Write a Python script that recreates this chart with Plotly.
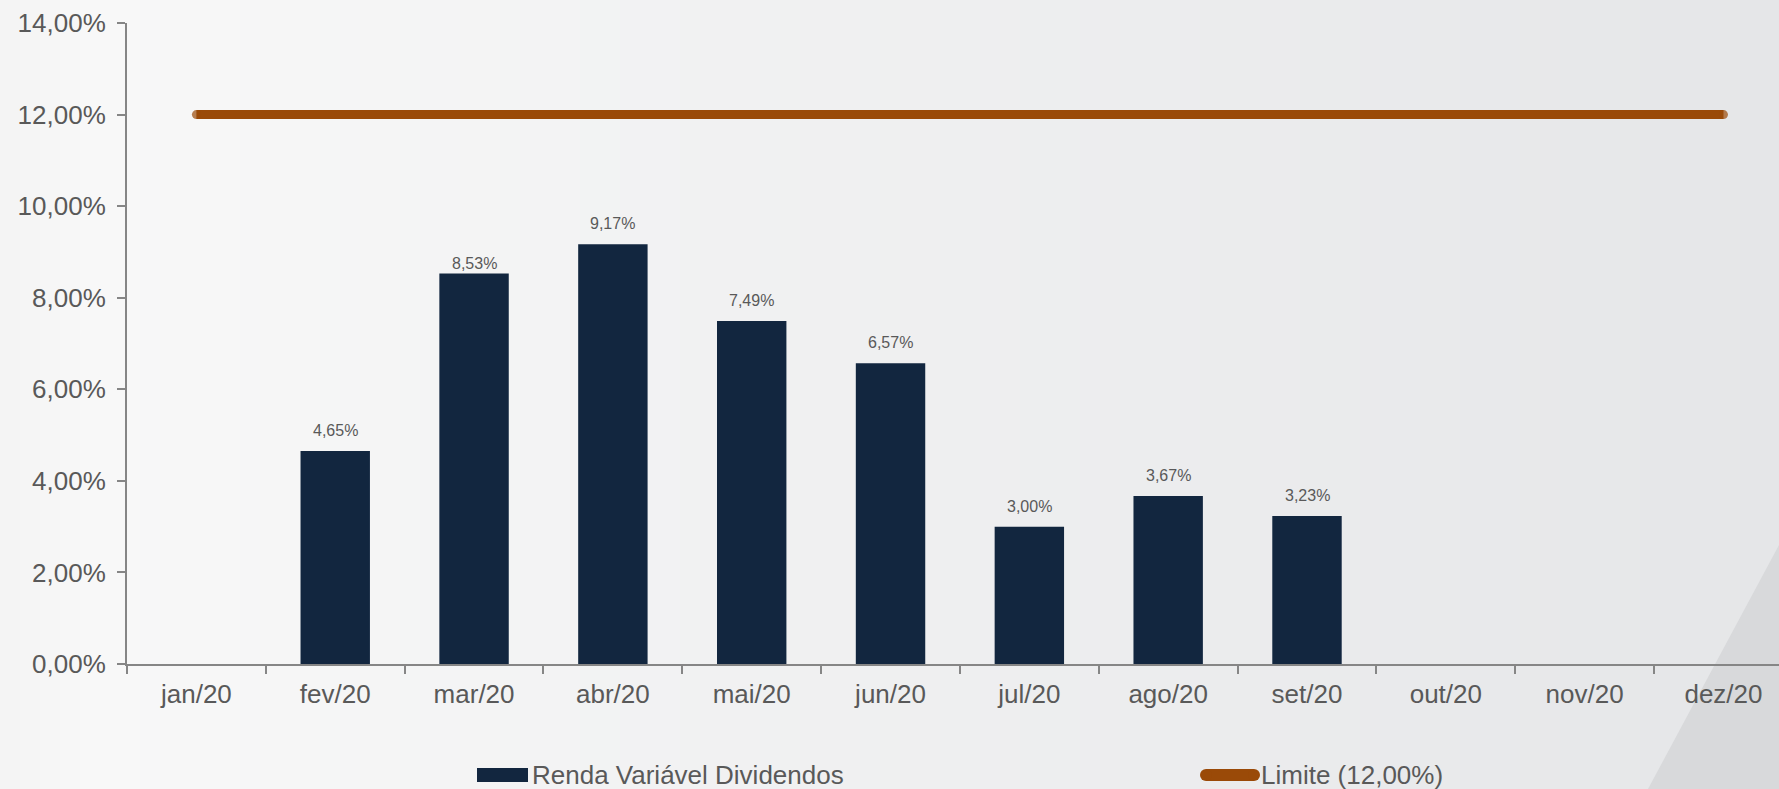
import plotly.graph_objects as go

# ---------------- data ----------------
categories = ["jan/20", "fev/20", "mar/20", "abr/20", "mai/20", "jun/20",
              "jul/20", "ago/20", "set/20", "out/20", "nov/20", "dez/20"]
dividendos_pct = [None, 4.65, 8.53, 9.17, 7.49, 6.57, 3.00, 3.67, 3.23, None, None, None]
limite_pct = [12.00] * 12
series_names = ["Renda Variável Dividendos", "Limite (12,00%)"]
y_tick_values_pct = [0, 2, 4, 6, 8, 10, 12, 14]

# ---------------- styles ----------------
FONT = "Liberation Sans, Arial, sans-serif"
TXT = "#595959"
AXIS = "#868686"
BAR = "#12263f"
LINE = "#9a4a08"

W_FIG, H_FIG = 1779, 789
L, R, T, B = 127, 1779, 23, 664
PW, PH = R - L, B - T


def px(x):
    return (x - L) / PW


def py(y):
    return (B - y) / PH


def fmt(v):
    return f"{v:.2f}".replace(".", ",") + "%"


fig = go.Figure()

fig.add_trace(go.Bar(
    x=categories,
    y=[None if v is None else v / 100 for v in dividendos_pct],
    name=series_names[0],
    marker=dict(color=BAR, line=dict(width=0)),
    showlegend=False,
))

n = len(limite_pct)
fig.add_trace(go.Scatter(
    x=categories,
    y=[v / 100 for v in limite_pct],
    name=series_names[1],
    mode="lines+markers",
    line=dict(color=LINE, width=9),
    marker=dict(color=LINE, size=[9] + [0] * (n - 2) + [9], line=dict(width=0)),
    showlegend=False,
))

# data labels
label_shift = {2: -1}
annotations = []
for i, v in enumerate(dividendos_pct):
    if v is None:
        continue
    annotations.append(dict(
        x=categories[i], y=v / 100, xref="x", yref="y",
        text=fmt(v), showarrow=False, yanchor="bottom",
        yshift=label_shift.get(i, 10),
        font=dict(family=FONT, size=16, color=TXT),
    ))

shapes = []


def lerp(a, b, t):
    return tuple(round(a[k] + (b[k] - a[k]) * t) for k in range(3))


# background gradient bands (decoration)
c_left = (244, 244, 244)
c_mid = (248, 248, 248)
c_right = (229, 230, 232)
step = 20
x = 0
while x < W_FIG:
    xc = x + step / 2
    if xc < 100:
        c = lerp(c_left, c_mid, xc / 100)
    else:
        c = lerp(c_mid, c_right, (xc - 100) / (W_FIG - 100))
    shapes.append(dict(type="rect", xref="paper", yref="paper",
                       x0=px(x), x1=px(x + step + 1), y0=py(H_FIG), y1=py(0),
                       fillcolor=f"rgb{c}", line=dict(width=0), layer="below"))
    x += step
# darker triangle bottom-right
shapes.append(dict(type="path", xref="paper", yref="paper",
                   path=f"M{px(1648)},{py(789)} L{px(1779)},{py(789)} L{px(1779)},{py(545)} Z",
                   fillcolor="rgb(216,217,219)", line=dict(width=0), layer="below"))

# legend items (custom)
leg_y = 775
shapes.append(dict(type="rect", xref="paper", yref="paper",
                   x0=px(477), x1=px(528), y0=py(782), y1=py(768),
                   fillcolor=BAR, line=dict(width=0)))
annotations.append(dict(x=px(530), y=py(leg_y), xref="paper", yref="paper",
                        text=series_names[0], showarrow=False, xanchor="left", yanchor="middle",
                        font=dict(family=FONT, size=26, color=TXT)))
shapes.append(dict(type="line", xref="paper", yref="paper",
                   x0=px(1206), x1=px(1254), y0=py(leg_y), y1=py(leg_y),
                   line=dict(color=LINE, width=12)))
for cx in (1206, 1254):
    shapes.append(dict(type="circle", xref="paper", yref="paper",
                       xsizemode="pixel", ysizemode="pixel",
                       xanchor=px(cx), yanchor=py(leg_y),
                       x0=-6, x1=6, y0=-6, y1=6,
                       fillcolor=LINE, line=dict(width=0)))
annotations.append(dict(x=px(1259), y=py(leg_y), xref="paper", yref="paper",
                        text=series_names[1], showarrow=False, xanchor="left", yanchor="middle",
                        font=dict(family=FONT, size=26, color=TXT)))

fig.update_layout(
    width=W_FIG, height=H_FIG,
    margin=dict(l=L, r=W_FIG - R, t=T, b=H_FIG - B, pad=0),
    paper_bgcolor="#f6f6f6",
    plot_bgcolor="rgba(0,0,0,0)",
    separators=",.",
    bargap=0.5,
    showlegend=False,
    font=dict(family=FONT, size=26, color=TXT),
    shapes=shapes,
    annotations=annotations,
    xaxis=dict(
        type="category", range=[-0.5, 11.4],
        showline=True, linecolor=AXIS, linewidth=2,
        ticks="outside", tickson="boundaries", ticklen=8, tickwidth=2, tickcolor=AXIS,
        showgrid=False, zeroline=False,
        tickfont=dict(family=FONT, size=26, color=TXT),
        ticklabelstandoff=6,
    ),
    yaxis=dict(
        range=[0, 0.14],
        tickvals=[v / 100 for v in y_tick_values_pct],
        tickformat=".2%",
        showline=True, linecolor=AXIS, linewidth=2,
        ticks="outside", ticklen=8, tickwidth=2, tickcolor=AXIS,
        showgrid=False, zeroline=False,
        tickfont=dict(family=FONT, size=26, color=TXT),
        ticklabelstandoff=6,
    ),
)

fig.write_html(
    "out.html",
    config={"displayModeBar": False},
    post_script="document.body.style.margin='0';document.body.style.overflow='hidden';",
)
